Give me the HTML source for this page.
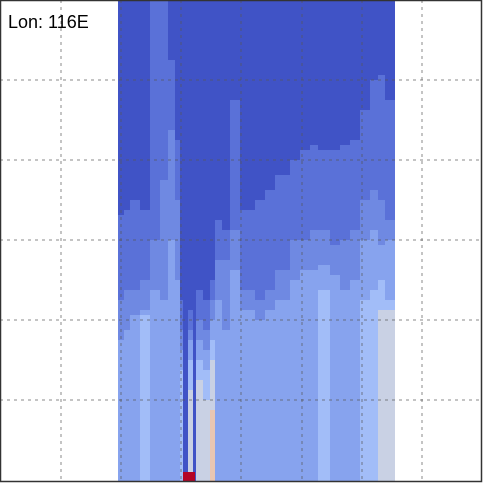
<!DOCTYPE html>
<html><head><meta charset="utf-8"><style>
html,body{margin:0;padding:0;background:#fff;width:483px;height:483px;overflow:hidden}
svg{display:block}
</style></head><body>
<svg id="chart" width="483" height="483" xmlns="http://www.w3.org/2000/svg">
<g id="cells"></g>
<g id="grid"></g>
<rect x="0.5" y="0.5" width="481" height="481" fill="none" stroke="#333" stroke-width="1.5"/>
<text x="8" y="28" font-family="Liberation Sans, sans-serif" font-size="18" fill="#000">Lon: 116E</text>
</svg>
<script>
const colStarts = [118,124,130,140,150,160,168,175,180,183,188,193,196,203,210,215,222,230,240,255,265,275,290,300,310,318,330,340,350,360,370,378,385];
const colEnd = 395;
const b1 = [215,210,200,210,0,0,60,140,300,999,310,999,290,300,280,220,230,100,210,200,190,175,160,150,145,150,150,145,140,110,80,75,100];
const b2 = [300,290,290,280,240,180,130,200,330,999,330,999,320,330,300,260,260,230,290,300,290,270,240,240,230,230,245,240,230,200,190,200,220];
const b3 = [340,330,315,310,290,300,240,280,350,999,340,999,340,350,320,300,330,270,310,320,310,300,280,270,270,265,275,290,280,240,230,245,240];
const b4 = [999,999,999,315,999,999,999,999,370,999,360,999,360,370,340,999,999,999,999,999,999,999,999,999,999,290,999,999,999,300,290,280,300];
const b5 = [999,999,999,999,999,999,999,999,999,999,390,999,380,400,360,999,999,999,999,999,999,999,999,999,999,999,999,999,999,999,999,310,310];
const b6 = [999,999,999,999,999,999,999,999,999,999,999,999,999,999,410,999,999,999,999,999,999,999,999,999,999,999,999,999,999,999,999,999,999];
const levelColors = ['#4053c6','#5a71d8','#6f89e2','#87a3ee','#a2bdf8','#c9d1e4','#e9c6b2','#f0a285'];
const yTop = 0, yBottom = 481;
function yScale(v){ return Math.min(Math.max(v, yTop), yBottom); }
const NS='http://www.w3.org/2000/svg';
const cells=document.getElementById('cells');
const bounds=[b1,b2,b3,b4,b5,b6];
for(let i=0;i<colStarts.length;i++){
  const x0=colStarts[i], x1=(i+1<colStarts.length?colStarts[i+1]:colEnd);
  const edges=[0].concat(bounds.map(b=>b[i]));
  for(let k=0;k<edges.length;k++){
    const ya=yScale(edges[k]);
    let yb=yBottom;
    for(let j=k+1;j<edges.length;j++){ if(edges[j]<999){ yb=yScale(edges[j]); break; } }
    if(edges[k]>=999 || yb<=ya) continue;
    const r=document.createElementNS(NS,'rect');
    r.setAttribute('x',x0); r.setAttribute('y',ya);
    r.setAttribute('width',x1-x0); r.setAttribute('height',yb-ya);
    r.setAttribute('fill',levelColors[k]);
    
    
    cells.appendChild(r);
  }
}
const blob=document.createElementNS(NS,'rect');
blob.setAttribute('x',183); blob.setAttribute('y',472); blob.setAttribute('width',12); blob.setAttribute('height',9);
blob.setAttribute('fill','#b40426');


cells.appendChild(blob);
const gridX=[61,121,181,241,302,362,422];
const gridY=[80,160,240,320,400];
const grid=document.getElementById('grid');
gridX.forEach(x=>{const l=document.createElementNS(NS,'line');
 l.setAttribute('x1',x);l.setAttribute('x2',x);l.setAttribute('y1',0);l.setAttribute('y2',481);
 l.setAttribute('stroke','#555');l.setAttribute('stroke-dasharray','3,4');l.setAttribute('stroke-opacity','0.7');
 
 
 grid.appendChild(l);});
gridY.forEach(y=>{const l=document.createElementNS(NS,'line');
 l.setAttribute('x1',0);l.setAttribute('x2',481);l.setAttribute('y1',y);l.setAttribute('y2',y);
 l.setAttribute('stroke','#555');l.setAttribute('stroke-dasharray','3,4');l.setAttribute('stroke-opacity','0.7');
 
 
 grid.appendChild(l);});
</script>
</body></html>
